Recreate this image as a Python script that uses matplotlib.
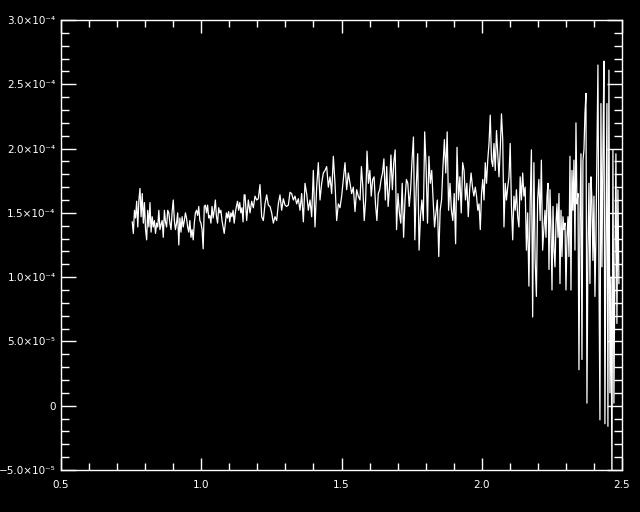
import numpy as np
import matplotlib.pyplot as plt
from matplotlib.ticker import MultipleLocator, FixedLocator

# values are in units of 1e-5
# each piece: (x start, x end), values
seg_a_range = (0.754, 1.153)
seg_a = [14.3, 13.4, 15.2, 14.6, 15.9, 13.9, 16.0, 16.9, 14.7, 16.5, 14.2, 15.8, 13.7, 12.9,
         15.2, 13.9, 15.8, 13.5, 14.7, 13.9, 14.4, 13.4, 14.2, 13.9, 15.2, 13.7, 14.1, 14.4,
         13.1, 15.2, 14.3, 13.9, 15.2, 15.0, 14.2, 13.7, 15.1, 16.0, 14.4, 13.7, 14.2, 15.0,
         12.5, 14.6, 13.5, 14.7, 13.9, 14.4, 15.0, 14.6, 13.9, 13.5, 14.4, 13.1, 13.7, 12.9,
         14.2, 15.0, 15.2, 14.8, 15.5, 14.4, 14.2, 13.7, 12.2, 15.5, 15.6, 15.0, 15.6, 14.6,
         14.8, 14.2, 15.5, 14.6, 15.2, 16.0, 14.7, 14.2, 15.4, 15.0, 15.2, 14.4, 13.9, 13.4,
         14.2, 15.0, 14.6, 15.1, 14.3, 15.0, 14.7, 15.2, 14.2, 15.0, 15.5, 15.9, 15.2, 15.8,
         15.0, 15.4, 14.3, 16.4]

seg_b_range = (1.156, 1.560)
seg_b = [16.4, 14.4, 16.0, 15.0, 15.9, 15.4, 16.3, 16.0, 16.1, 17.2, 14.7, 14.4, 15.7, 16.4,
         15.6, 15.5, 15.0, 14.2, 14.7, 14.4, 15.7, 16.4, 15.2, 16.1, 15.6, 15.5, 15.6, 16.6,
         16.5, 16.0, 16.3, 15.7, 16.1, 15.2, 16.5, 14.3, 17.3, 16.5, 15.2, 16.0, 14.7, 18.3,
         13.9, 17.0, 18.9, 16.0, 17.3, 18.1, 18.3, 18.6, 17.0, 17.8, 16.5, 19.4, 17.3, 14.4,
         15.7, 15.4, 16.3, 17.6, 18.9, 16.8, 18.1, 17.3, 16.5, 17.0, 15.1, 16.8, 16.3]

seg_c_range = (1.566, 1.972)
seg_c = [16.0, 18.6, 17.0, 14.4, 16.0, 19.8, 17.3, 18.3, 16.3, 17.6, 17.8, 15.7, 14.4, 16.5,
         16.8, 17.6, 18.1, 19.2, 16.0, 18.6, 15.5, 17.0, 19.5, 16.8, 18.9, 19.9, 13.7, 16.5,
         15.0, 14.2, 17.3, 13.1, 16.0, 17.6, 17.3, 15.5, 16.8, 19.1, 20.9, 12.9, 17.0, 19.6,
         12.1, 14.7, 16.0, 14.4, 21.3, 18.6, 14.2, 19.4, 17.3, 18.3, 16.0, 13.9, 15.0, 16.0,
         11.6, 15.2, 16.0, 18.6, 20.7, 18.1, 21.3, 15.2, 17.3, 15.2, 14.4, 16.5, 12.6, 20.1,
         16.0, 17.8, 15.0, 18.9, 18.3, 16.0, 17.3, 14.7, 16.8, 18.1, 17.0, 16.3]

seg_d_range = (1.977, 2.217)
seg_d = [17.0, 16.3, 15.2, 15.7, 13.7, 16.5, 17.6, 16.0, 18.9, 17.3, 19.1, 20.4, 22.6, 19.1,
         18.6, 20.4, 18.3, 21.4, 19.6, 17.8, 19.9, 22.7, 20.7, 13.9, 17.3, 16.0, 17.0, 17.8,
         20.4, 15.5, 12.9, 16.3, 15.2, 16.8, 14.7, 13.9, 17.8, 16.0, 18.1, 16.3, 17.0, 12.1,
         15.0, 9.3, 15.7, 19.9, 6.9, 18.9, 11.3, 8.5, 16.0, 17.6, 14.4, 19.1, 12.1]

seg_e_range = (2.2255, 2.489)
seg_e = [15.2, 13.1, 16.3, 17.3, 10.6, 16.8, 13.7, 9.0, 15.5, 12.1, 10.8, 14.2, 15.7, 13.1,
         16.5, 9.5, 15.2, 11.6, 14.7, 13.7, 14.2, 9.0, 13.1, 14.7, 11.6, 19.4, 9.0, 18.3,
         15.2, 19.1, 12.1, 22.0, 15.7, 16.5, 2.8, 14.7, 19.6, 3.6, 19.1, 19.9, 22.7, 24.3,
         0.2, 12.1, 17.3, 9.5, 17.8, 16.0, 11.3, 16.3, 8.5, 13.1, 19.6, 26.5, 10.6, -1.1,
         23.5, 10.8, 19.9, 26.8, -1.4, 12.6, 23.5, -1.6, 26.1, 1.0, 10.0, -6.0, 19.9, 0.2,
         11.1, 19.6, 6.4, 16.8, 9.5]

ytick_values = [-5e-5, 0, 5e-5, 1e-4, 1.5e-4, 2e-4, 2.5e-4, 3e-4]
ytick_labels = ['\u22125.0\u00d710\u207b\u2075', '0', '5.0\u00d710\u207b\u2075',
                '1.0\u00d710\u207b\u2074', '1.5\u00d710\u207b\u2074', '2.0\u00d710\u207b\u2074',
                '2.5\u00d710\u207b\u2074', '3.0\u00d710\u207b\u2074']
xtick_values = [0.5, 1.0, 1.5, 2.0, 2.5]
xtick_labels = ['0.5', '1.0', '1.5', '2.0', '2.5']

segments = [(seg_a_range, seg_a), (seg_b_range, seg_b), (seg_c_range, seg_c),
            (seg_d_range, seg_d), (seg_e_range, seg_e)]
xs = np.concatenate([np.linspace(r[0], r[1], len(v)) for r, v in segments])
ys = np.concatenate([np.array(v) for r, v in segments]) * 1e-5

fig = plt.figure(figsize=(6.4, 5.12), dpi=100, facecolor='black')
ax = fig.add_axes([61 / 640, 42 / 512, 561 / 640, 450 / 512])
ax.set_facecolor('black')

ax.plot(xs, ys, color='white', lw=0.9)

ax.set_xlim(0.5, 2.5)
ax.set_ylim(-5e-5, 3e-4)

ax.xaxis.set_major_locator(FixedLocator(xtick_values))
ax.set_xticklabels(xtick_labels)
ax.xaxis.set_minor_locator(MultipleLocator(0.1))
ax.yaxis.set_major_locator(FixedLocator(ytick_values))
ax.set_yticklabels(ytick_labels)
ax.yaxis.set_minor_locator(MultipleLocator(1e-5))

for s in ax.spines.values():
    s.set_color('white')
    s.set_linewidth(1.0)

ax.tick_params(axis='both', which='both', direction='in', colors='white',
               top=True, right=True, labelsize=7.5, width=1.0)
ax.tick_params(axis='x', which='major', length=9, pad=7)
ax.tick_params(axis='x', which='minor', length=5)
ax.tick_params(axis='y', which='major', length=11, pad=4)
ax.tick_params(axis='y', which='minor', length=6)

fig.savefig('out.png', dpi=100, facecolor='black')
